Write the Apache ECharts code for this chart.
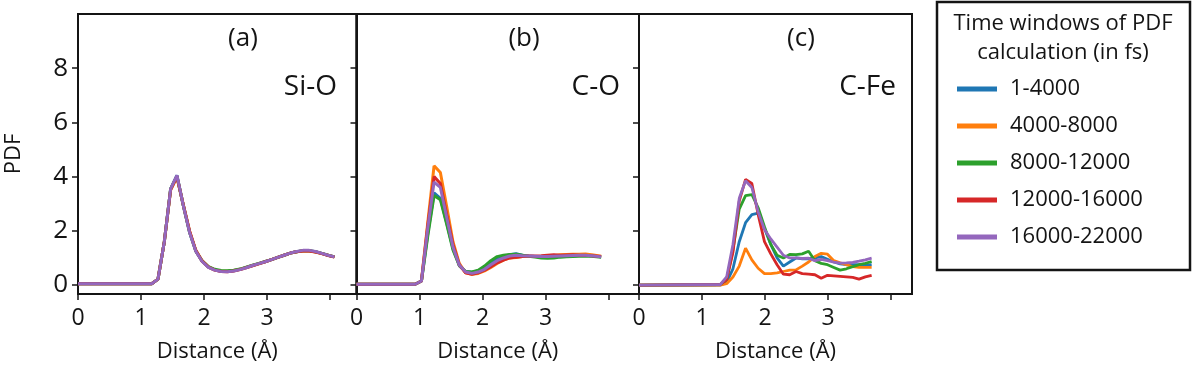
<!DOCTYPE html>
<html><head><meta charset="utf-8">
<script src="https://cdn.jsdelivr.net/npm/echarts@6/dist/echarts.min.js"></script>
<style>html,body{margin:0;padding:0;background:#fff}#c{width:1193px;height:368px}</style>
</head><body><div id="c"></div>
<script>
// ---- data ----
const seriesNames = ['1-4000', '4000-8000', '8000-12000', '12000-16000', '16000-22000'];
const colors = ['#1f77b4', '#ff7f0e', '#2ca02c', '#d62728', '#9467bd'];
const xTickValues = [0, 1, 2, 3, 4];
const xTickLabels = [0, 1, 2, 3];
const yTickValues = [0, 2, 4, 6, 8];
const panelLabels = ['(a)', '(b)', '(c)'];
const pairLabels = ['Si-O', 'C-O', 'C-Fe'];
const xAxisTitle = 'Distance (Å)';
const yAxisTitle = 'PDF';
const legendTitle1 = 'Time windows of PDF';
const legendTitle2 = 'calculation (in fs)';

// (a) Si-O
const distSiO = [0, 1.17, 1.27, 1.37, 1.47, 1.57, 1.67, 1.77, 1.87, 1.97, 2.07, 2.17, 2.27, 2.37, 2.47, 2.57, 2.67, 2.77, 2.87, 2.97, 3.07, 3.17, 3.27, 3.37, 3.47, 3.57, 3.67, 3.77, 3.87, 3.97, 4.07];
const siO_1 = [0.05, 0.05, 0.22, 1.6, 3.55, 4.05, 2.95, 1.95, 1.25, 0.88, 0.66, 0.56, 0.51, 0.5, 0.53, 0.58, 0.65, 0.72, 0.79, 0.86, 0.94, 1.02, 1.1, 1.18, 1.23, 1.27, 1.27, 1.23, 1.17, 1.1, 1.04];
const siO_2 = [0.05, 0.05, 0.22, 1.6, 3.5, 3.97, 2.98, 2.0, 1.28, 0.9, 0.67, 0.56, 0.52, 0.51, 0.54, 0.58, 0.65, 0.72, 0.79, 0.86, 0.94, 1.02, 1.1, 1.18, 1.23, 1.26, 1.26, 1.22, 1.16, 1.1, 1.04];
const siO_3 = [0.05, 0.05, 0.22, 1.6, 3.55, 4.02, 2.95, 1.96, 1.26, 0.89, 0.68, 0.58, 0.54, 0.53, 0.55, 0.59, 0.66, 0.73, 0.8, 0.87, 0.94, 1.02, 1.1, 1.18, 1.23, 1.27, 1.27, 1.23, 1.17, 1.1, 1.04];
const siO_4 = [0.05, 0.05, 0.22, 1.6, 3.52, 4.0, 2.97, 2.0, 1.27, 0.88, 0.66, 0.55, 0.5, 0.49, 0.52, 0.57, 0.64, 0.71, 0.78, 0.86, 0.94, 1.02, 1.1, 1.18, 1.23, 1.26, 1.26, 1.22, 1.16, 1.09, 1.03];
const siO_5 = [0.05, 0.05, 0.22, 1.6, 3.55, 4.05, 2.95, 1.95, 1.25, 0.87, 0.65, 0.55, 0.5, 0.49, 0.52, 0.57, 0.64, 0.72, 0.79, 0.86, 0.94, 1.02, 1.1, 1.18, 1.24, 1.28, 1.28, 1.24, 1.17, 1.1, 1.04];

// (b) C-O
const distCO = [0, 0.93, 1.03, 1.13, 1.23, 1.33, 1.43, 1.53, 1.63, 1.73, 1.83, 1.93, 2.03, 2.13, 2.23, 2.33, 2.43, 2.53, 2.63, 2.73, 2.83, 2.93, 3.03, 3.13, 3.23, 3.33, 3.43, 3.53, 3.63, 3.73, 3.88];
const cO_1 = [0.03, 0.03, 0.15, 1.9, 3.4, 3.2, 2.3, 1.35, 0.72, 0.5, 0.47, 0.52, 0.63, 0.8, 0.95, 1.05, 1.12, 1.16, 1.1, 1.07, 1.05, 1.04, 1.03, 1.04, 1.05, 1.07, 1.08, 1.09, 1.1, 1.08, 1.04];
const cO_2 = [0.03, 0.03, 0.15, 2.3, 4.4, 4.15, 2.9, 1.6, 0.8, 0.45, 0.4, 0.43, 0.52, 0.65, 0.8, 0.92, 1.0, 1.02, 1.05, 1.06, 1.05, 1.05, 1.05, 1.08, 1.12, 1.13, 1.14, 1.14, 1.15, 1.12, 1.06];
const cO_3 = [0.03, 0.03, 0.15, 1.8, 3.3, 3.15, 2.25, 1.3, 0.72, 0.5, 0.48, 0.55, 0.7, 0.9, 1.05, 1.1, 1.13, 1.14, 1.1, 1.06, 1.03, 1.0, 0.99, 1.0, 1.03, 1.04, 1.05, 1.06, 1.07, 1.06, 1.03];
const cO_4 = [0.03, 0.03, 0.15, 2.2, 4.0, 3.75, 2.6, 1.5, 0.75, 0.45, 0.4, 0.45, 0.55, 0.68, 0.82, 0.92, 1.0, 1.03, 1.05, 1.07, 1.07, 1.08, 1.1, 1.12, 1.1, 1.11, 1.12, 1.1, 1.1, 1.08, 1.05];
const cO_5 = [0.03, 0.03, 0.15, 2.1, 3.8, 3.6, 2.5, 1.4, 0.74, 0.48, 0.43, 0.48, 0.58, 0.75, 0.9, 1.0, 1.07, 1.1, 1.08, 1.07, 1.06, 1.05, 1.05, 1.06, 1.07, 1.08, 1.09, 1.1, 1.1, 1.08, 1.04];

// (c) C-Fe
const distCFe = [0, 1.29, 1.39, 1.49, 1.59, 1.69, 1.79, 1.89, 1.99, 2.09, 2.19, 2.29, 2.39, 2.49, 2.59, 2.69, 2.79, 2.89, 2.99, 3.09, 3.19, 3.29, 3.39, 3.49, 3.59, 3.69];
const cFe_1 = [0, 0.0, 0.1, 0.6, 1.6, 2.3, 2.6, 2.65, 2.1, 1.5, 1.0, 0.7, 0.85, 1.0, 0.97, 0.97, 1.0, 1.05, 0.95, 0.85, 0.78, 0.75, 0.75, 0.75, 0.73, 0.75];
const cFe_2 = [0, 0.0, 0.05, 0.3, 0.7, 1.36, 0.93, 0.62, 0.42, 0.42, 0.45, 0.5, 0.55, 0.56, 0.7, 0.85, 1.05, 1.17, 1.14, 0.9, 0.82, 0.75, 0.68, 0.65, 0.65, 0.65];
const cFe_3 = [0, 0.02, 0.2, 1.3, 2.8, 3.3, 3.34, 2.85, 2.15, 1.5, 1.1, 1.0, 1.13, 1.12, 1.15, 1.25, 0.9, 0.8, 0.75, 0.65, 0.55, 0.6, 0.68, 0.75, 0.8, 0.87];
const cFe_4 = [0, 0.02, 0.2, 1.2, 3.1, 3.9, 3.75, 2.6, 1.6, 1.15, 0.75, 0.4, 0.38, 0.5, 0.42, 0.4, 0.38, 0.25, 0.36, 0.34, 0.32, 0.3, 0.28, 0.22, 0.3, 0.36];
const cFe_5 = [0, 0.02, 0.3, 1.5, 3.2, 3.85, 3.6, 2.7, 2.05, 1.7, 1.4, 1.1, 1.0, 1.0, 0.98, 0.99, 0.9, 0.95, 0.9, 0.85, 0.81, 0.82, 0.84, 0.88, 0.93, 0.99];

// ---- layout ----
const FONT = 'Open Sans';
const INK = '#141414';
const panels = [
  { dist: distSiO, ys: [siO_1, siO_2, siO_3, siO_4, siO_5], left: 78, width: 278.5, xMax: 4.42 },
  { dist: distCO, ys: [cO_1, cO_2, cO_3, cO_4, cO_5], left: 356.5, width: 282.5, xMax: 4.48 },
  { dist: distCFe, ys: [cFe_1, cFe_2, cFe_3, cFe_4, cFe_5], left: 639, width: 273, xMax: 4.33 }
];
const TOP = 14, HEIGHT = 282;

const grid = [], xAxis = [], yAxis = [], series = [], graphic = [];
const annX = [243, 524, 801];
const pairRight = [337, 620, 896];
panels.forEach((p, i) => {
  grid.push({ left: p.left, top: TOP, width: p.width, height: HEIGHT, show: true,
    borderColor: INK, borderWidth: 2, backgroundColor: 'transparent', containLabel: false });
  xAxis.push({
    type: 'value', gridIndex: i, min: 0, max: p.xMax,
    axisLine: { show: true, onZero: false, lineStyle: { color: INK, width: 2 } },
    axisTick: { show: true, length: 6, customValues: xTickValues, lineStyle: { color: INK, width: 1.5 } },
    axisLabel: { customValues: xTickLabels, fontSize: 23, fontFamily: FONT, color: INK, margin: 13 },
    splitLine: { show: false },
    name: xAxisTitle, nameLocation: 'middle', nameGap: 47,
    nameTextStyle: { fontSize: 22, fontFamily: FONT, color: INK }
  });
  yAxis.push({
    type: 'value', gridIndex: i, min: -0.33, max: 10,
    axisLine: { show: true, onZero: false, lineStyle: { color: INK, width: 2 } },
    axisTick: { show: true, length: 6, customValues: yTickValues, lineStyle: { color: INK, width: 1.5 } },
    axisLabel: { show: i === 0, customValues: yTickValues, fontSize: 26, fontFamily: FONT, color: INK, margin: 10 },
    splitLine: { show: false },
    name: i === 0 ? yAxisTitle : '', nameLocation: 'middle', nameGap: 53, nameRotate: 90,
    nameTextStyle: { fontSize: 22, fontFamily: FONT, color: INK }
  });
  p.ys.forEach((vals, k) => {
    series.push({
      type: 'line', name: seriesNames[k], xAxisIndex: i, yAxisIndex: i,
      data: p.dist.map((d, j) => [d, vals[j]]),
      showSymbol: false, symbol: 'none', color: colors[k],
      lineStyle: { width: i === 2 ? 2.8 : 3, color: colors[k] },
      emphasis: { disabled: true }, z: 3 + k
    });
  });
  graphic.push({ type: 'text', x: annX[i], y: 39, style: { text: panelLabels[i],
    textAlign: 'center', textVerticalAlign: 'middle', fontSize: 26, fontFamily: FONT, fill: INK } });
  graphic.push({ type: 'text', x: pairRight[i], y: 87, style: { text: pairLabels[i],
    textAlign: 'right', textVerticalAlign: 'middle', fontSize: 28, fontFamily: FONT, fill: INK } });
});
graphic.push({ type: 'rect', shape: { x: 937, y: 2, width: 253, height: 268 },
  style: { fill: 'none', stroke: INK, lineWidth: 2.5 } });
graphic.push({ type: 'text', x: 1063, y: 24, style: { text: legendTitle1,
  textAlign: 'center', textVerticalAlign: 'middle', fontSize: 22, fontFamily: FONT, fill: INK } });
graphic.push({ type: 'text', x: 1063, y: 53, style: { text: legendTitle2,
  textAlign: 'center', textVerticalAlign: 'middle', fontSize: 22, fontFamily: FONT, fill: INK } });

const chart = echarts.init(document.getElementById('c'), null, { renderer: 'canvas' });
chart.setOption({
  animation: false,
  backgroundColor: '#fff',
  color: colors,
  grid, xAxis, yAxis, series, graphic,
  legend: {
    data: seriesNames, orient: 'vertical', left: 957, top: 78, padding: 0,
    icon: 'rect', itemWidth: 40, itemHeight: 5, itemGap: 15,
    selectedMode: false,
    textStyle: { fontSize: 22, lineHeight: 22, fontFamily: FONT, color: INK, padding: [0, 0, 0, 8] }
  }
});
</script>
</body></html>
